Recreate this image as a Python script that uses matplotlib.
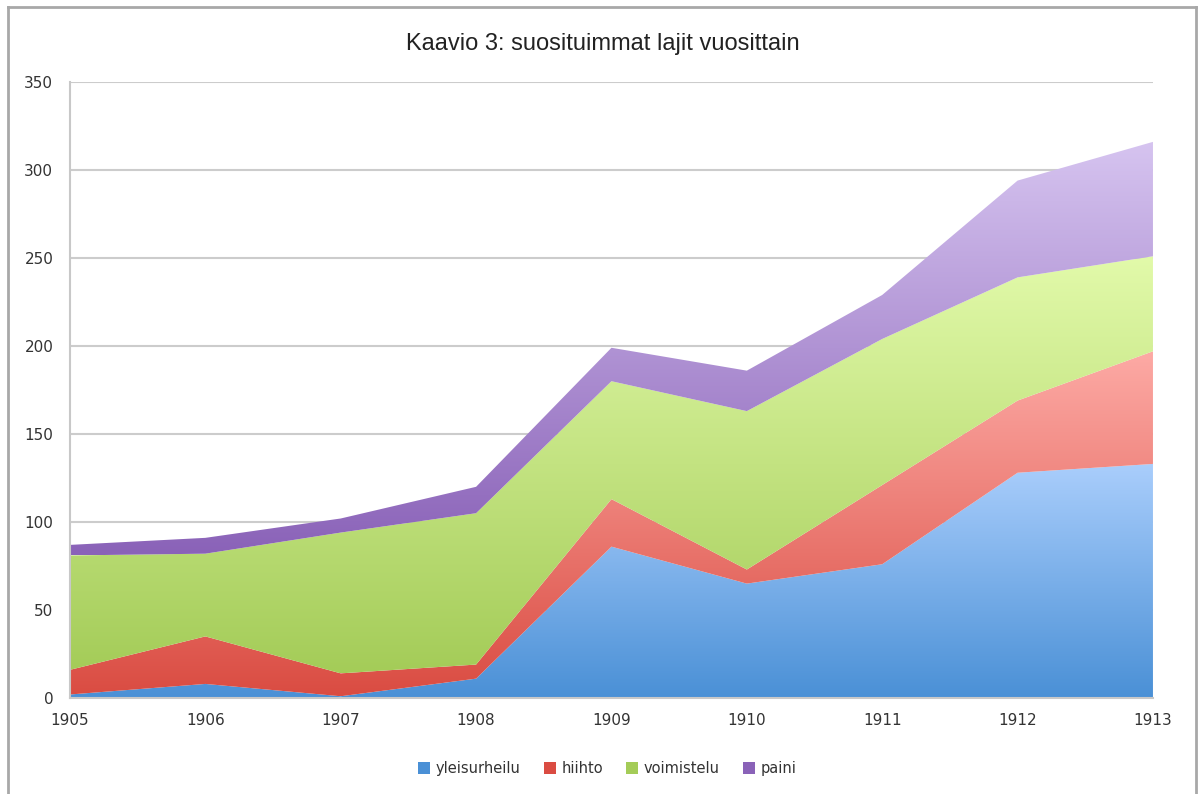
import matplotlib
matplotlib.use("Agg")
import matplotlib.pyplot as plt
import numpy as np
from matplotlib.colors import LinearSegmentedColormap
from matplotlib.lines import Line2D
from matplotlib.patches import Patch

# data
years = [1905, 1906, 1907, 1908, 1909, 1910, 1911, 1912, 1913]
yleisurheilu = [2, 8, 1, 11, 86, 65, 76, 128, 133]
hiihto = [14, 27, 13, 8, 27, 8, 45, 41, 64]
voimistelu = [65, 47, 80, 86, 67, 90, 83, 70, 54]
paini = [6, 9, 8, 15, 19, 23, 25, 55, 65]
labels = ["yleisurheilu", "hiihto", "voimistelu", "paini"]
title = "Kaavio 3: suosituimmat lajit vuosittain"

# (bottom colour, top colour) of each vertical gradient
gradients = [
    ("#4a90d6", "#aacefc"),
    ("#da4c42", "#fdaaa5"),
    ("#a4cc58", "#e2faaa"),
    ("#8a62b8", "#d6c4f0"),
]

fig = plt.figure(figsize=(11.98, 7.94), dpi=100)
ax = fig.add_axes([0.0584, 0.1209, 0.904, 0.7758])

x = np.array(years, dtype=float)
series = [yleisurheilu, hiihto, voimistelu, paini]
lower = np.zeros(len(years))
for vals, (c0, c1) in zip(series, gradients):
    upper = lower + np.array(vals, dtype=float)
    poly = ax.fill_between(x, lower, upper, facecolor="none", edgecolor="none")
    cmap = LinearSegmentedColormap.from_list("g", [c0, c1])
    y0, y1 = lower.min(), upper.max()
    grad = np.linspace(0, 1, 256).reshape(-1, 1)
    im = ax.imshow(grad, cmap=cmap, aspect="auto", origin="lower",
                   extent=[x[0], x[-1], y0, y1], zorder=2)
    im.set_clip_path(poly.get_paths()[0], transform=ax.transData)
    lower = upper

ax.set_xlim(years[0], years[-1])
ax.set_ylim(0, 350)
ax.set_xticks(years)
ax.set_yticks(range(0, 351, 50))
ax.yaxis.grid(True, color="#cccccc", linewidth=1.5, zorder=1)
ax.set_axisbelow(True)
ax.tick_params(length=0, labelsize=11, labelcolor="#333333")
ax.tick_params(axis="y", pad=12)
ax.tick_params(axis="x", pad=11)
for side in ["top", "right"]:
    ax.spines[side].set_visible(False)
for side in ["left", "bottom"]:
    ax.spines[side].set_color("#c8c8c8")
    ax.spines[side].set_linewidth(1.5)

fig.text(0.503, 0.945, title, ha="center", va="center", fontsize=17,
         family=["Liberation Sans", "DejaVu Sans"], color="#222222")

handles = [Patch(facecolor=c0, edgecolor="none") for c0, c1 in gradients]
fig.legend(handles, labels, loc="center", bbox_to_anchor=(0.507, 0.032),
           ncol=4, frameon=False, fontsize=10.5, handlelength=0.8,
           handleheight=0.8, handletextpad=0.4, columnspacing=1.6,
           labelcolor="#333333")

# grey frame on left, top and right
frame = dict(color="#a8a8a8", linewidth=2, transform=fig.transFigure)
fig.add_artist(Line2D([8 / 1198, 8 / 1198], [0, 1 - 7 / 794], **frame))
fig.add_artist(Line2D([8 / 1198, 1196 / 1198], [1 - 7 / 794, 1 - 7 / 794], **frame))
fig.add_artist(Line2D([1196 / 1198, 1196 / 1198], [0, 1 - 7 / 794], **frame))

fig.savefig("out.png", dpi=100)
